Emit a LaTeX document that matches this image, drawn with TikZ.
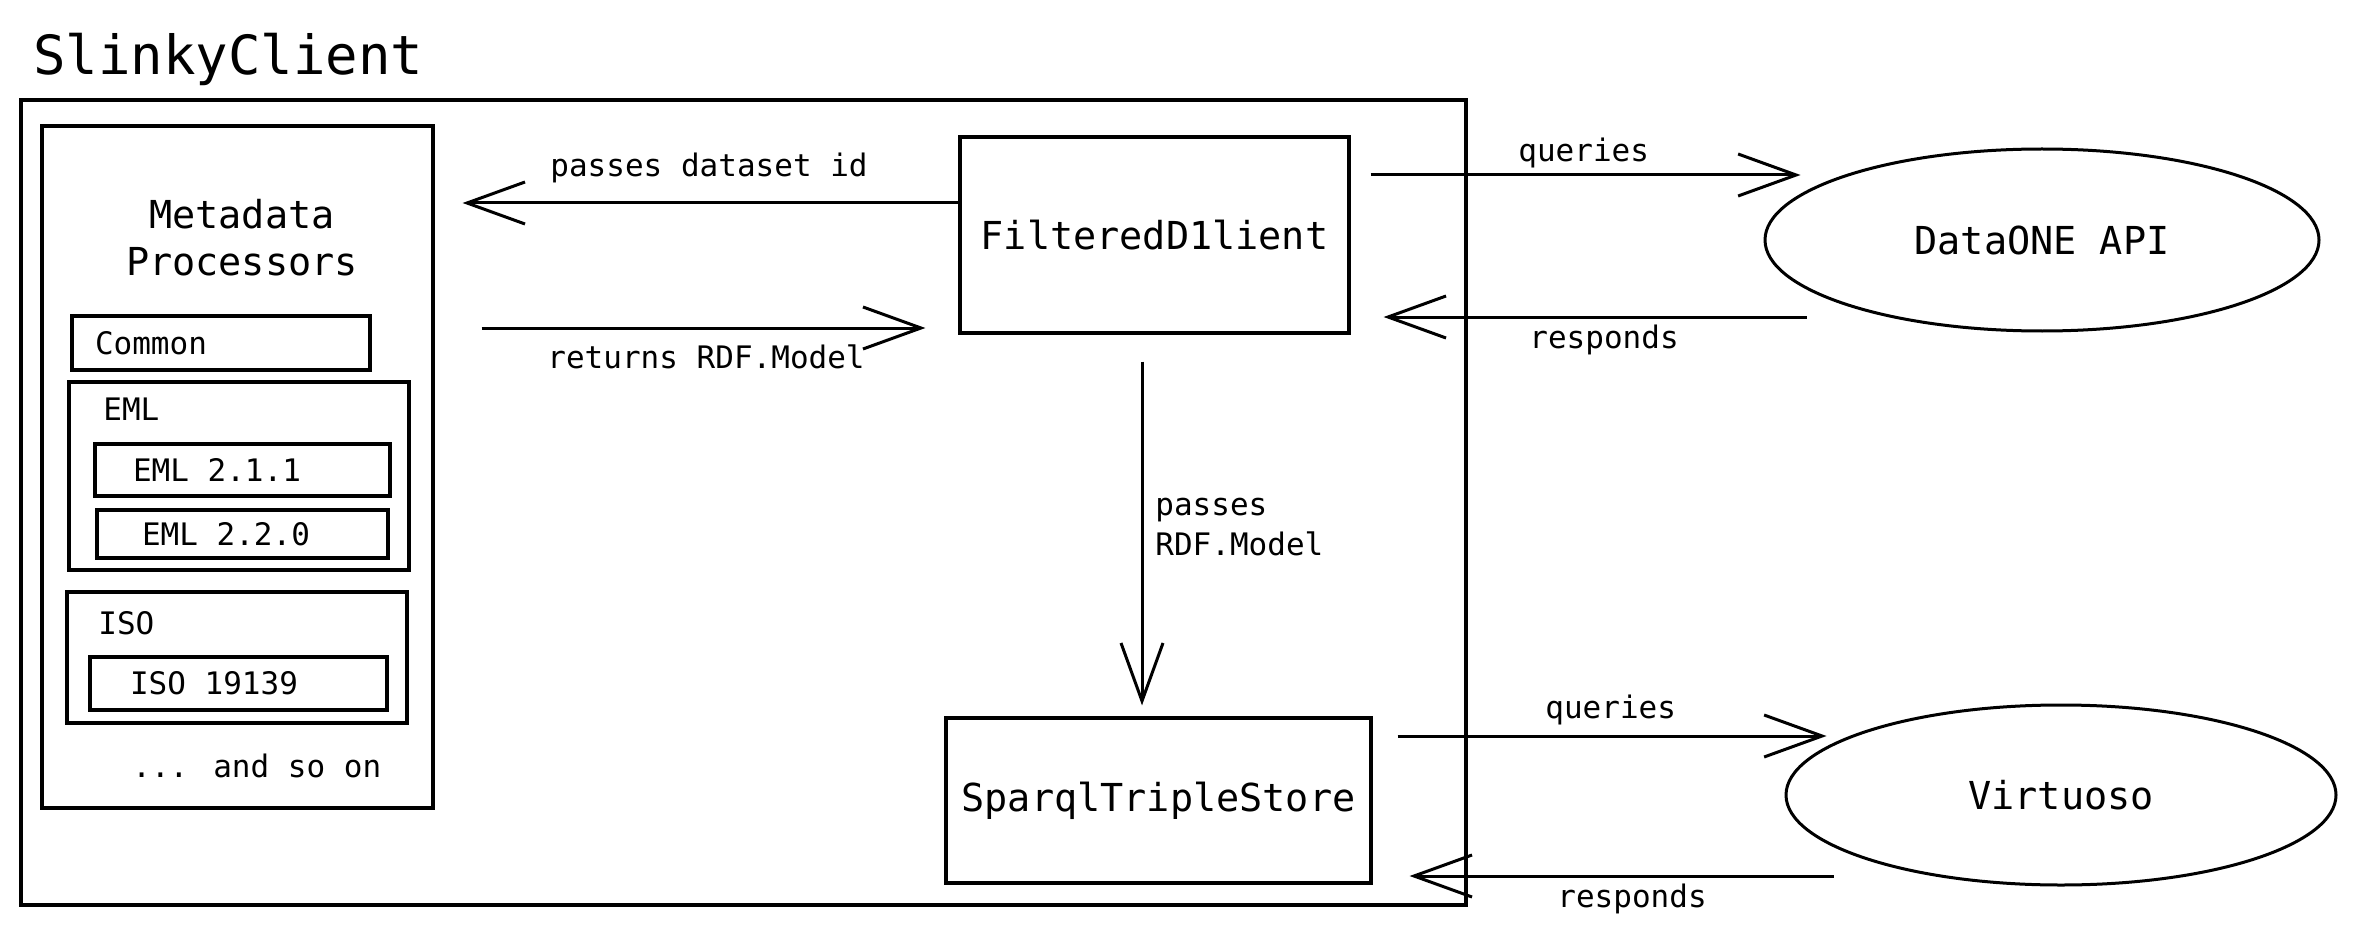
\documentclass[tikz,border=0pt]{standalone}
\usepackage{fontspec}
\setmainfont{DejaVu Sans Mono}
\usetikzlibrary{arrows.meta,shapes.geometric}
\begin{document}
\begin{tikzpicture}[x=0.5pt,y=-0.5pt,
  box/.style={draw,line width=1.6pt,inner sep=0pt},
  big/.style={font=\fontsize{19.25}{23.5}\selectfont},
  small/.style={font=\fontsize{15.5}{20}\selectfont},
  lbl/.style={small,anchor=base west,inner sep=0pt},
  arr/.style={line width=1.5pt,-{Straight Barb[length=29pt,width=21pt]}},
  sub/.style={box,small},
  oval/.style={draw,ellipse,line width=1.5pt,big,inner sep=0pt}]
\fill[white] (0,0) rectangle (2355,936);
\useasboundingbox (0,0) rectangle (2355,936);

\node[anchor=base west,inner sep=0pt,font=\fontsize{27}{32}\selectfont] (title) at (33,75) {SlinkyClient};
\node[box,minimum width=722.5pt,minimum height=402.5pt] (outer) at (743.5,502.5) {};

\node[box,minimum width=195.5pt,minimum height=341pt] (mp) at (237.5,467) {};
\node[big,align=center,anchor=north,inner sep=0pt] (mptxt) at (242,199) {Metadata\\Processors};
\node[sub,minimum height=27pt,inner xsep=11.5pt] (common) at (221,343) {\makebox[126pt][l]{Common}};
\node[box,minimum width=170pt,minimum height=94pt] (eml) at (239,476) {};
\node[lbl] (emllbl) at (103,420) {EML};
\node[sub,minimum height=26pt,inner xsep=19pt] (eml211) at (242.5,470) {\makebox[109.5pt][l]{EML 2.1.1}};
\node[sub,minimum height=24pt,inner xsep=22.5pt] (eml220) at (242.5,534) {\makebox[100.5pt][l]{EML 2.2.0}};
\node[box,minimum width=170pt,minimum height=65.5pt] (iso) at (237,657.5) {};
\node[lbl] (isolbl) at (98,634) {ISO};
\node[sub,minimum height=26.5pt,inner xsep=20pt] (iso19139) at (238.5,683.5) {\makebox[108.5pt][l]{ISO 19139}};
\node[lbl] (more) at (132,777) {... and so on};

\node[box,big,minimum width=194.5pt,minimum height=98pt] (fd) at (1154.5,235) {FilteredD1lient};
\node[box,big,minimum width=212.5pt,minimum height=82.5pt] (sts) at (1158.5,800.5) {SparqlTripleStore};
\node[oval,minimum width=277pt,minimum height=91pt] (api) at (2042,240) {DataONE API};
\node[oval,minimum width=275pt,minimum height=90pt] (virt) at (2061,795) {Virtuoso};

\coordinate (a1) at ([yshift=16pt]fd.west);
\draw[arr,shorten >=14pt] (a1) -- (a1 -| mp.east);
\coordinate (a2) at ([yshift=-46.5pt]fd.west);
\draw[arr,shorten <=23.5pt,shorten >=16.5pt] (a2 -| mp.east) -- (a2);
\coordinate (v1) at ([xshift=-6.25pt]fd.south);
\draw[arr,shorten <=13.5pt,shorten >=5.5pt] (v1) -- (v1 |- sts.north);

\coordinate (q1) at ([yshift=30pt]fd.east);
\draw[arr,shorten <=10pt,shorten >=-18.5pt] (q1) -- (q1 -| api.west);
\coordinate (r1) at ([yshift=-41pt]fd.east);
\draw[arr,shorten <=-21.5pt,shorten >=16.5pt] (r1 -| api.west) -- (r1);
\coordinate (q2) at ([yshift=32.25pt]sts.east);
\draw[arr,shorten <=12.5pt,shorten >=-21pt] (q2) -- (q2 -| virt.west);
\coordinate (r2) at ([yshift=-37.75pt]sts.east);
\draw[arr,shorten <=-24.5pt,shorten >=18.5pt] (r2 -| virt.west) -- (r2);

\node[lbl] (l1) at (550,177) {passes dataset id};
\node[lbl] (l2) at (547,368) {returns RDF.Model};
\node[small,align=left,anchor=north west,inner sep=0pt] (l3) at (1155,498) {passes\\RDF.Model};
\node[lbl] (l4) at (1518,162) {queries};
\node[lbl] (l5) at (1529,348) {responds};
\node[lbl] (l6) at (1545,718) {queries};
\node[lbl] (l7) at (1557,907) {responds};
\end{tikzpicture}
\end{document}
